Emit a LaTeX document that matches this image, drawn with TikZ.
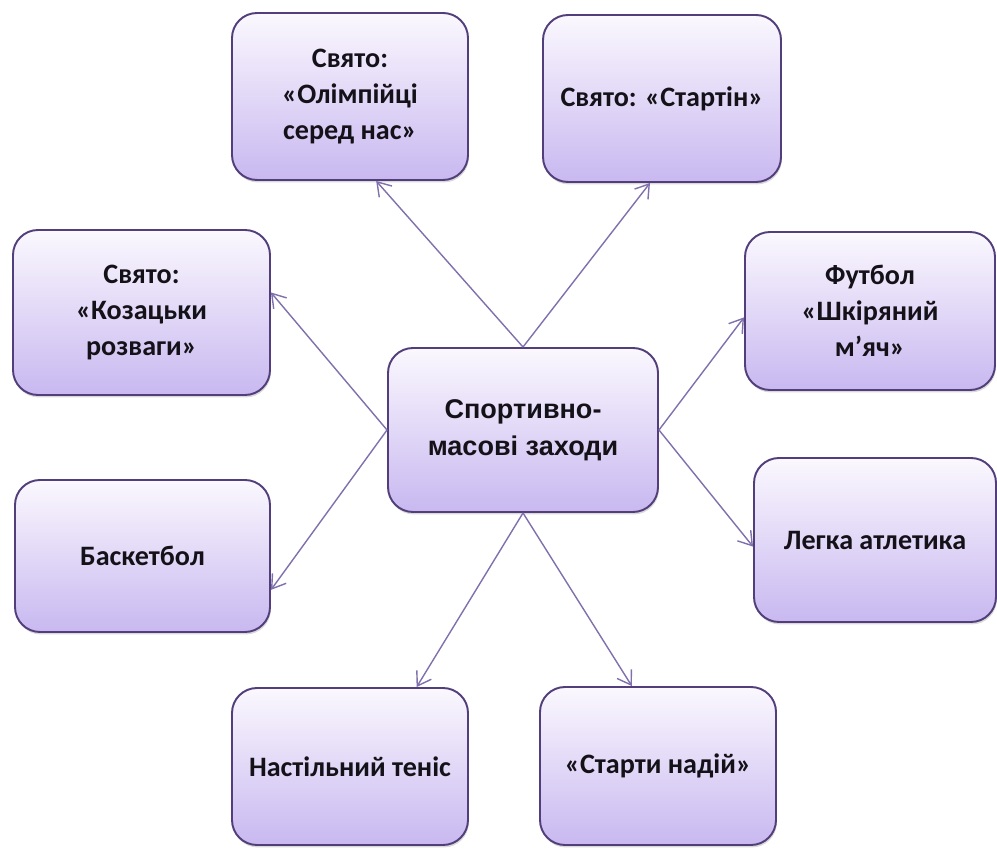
\documentclass[tikz,border=0pt]{standalone}
\usepackage{fontspec}
\setmainfont{Carlito}
\newfontfamily\hubfont{Liberation Sans}
\usetikzlibrary{arrows.meta,calc,shadows}
\definecolor{SportTop}{RGB}{251,248,254}
\definecolor{SportMid}{RGB}{237,229,251}
\definecolor{SportBot}{RGB}{200,184,240}
\definecolor{SportEdge}{RGB}{82,62,122}
\definecolor{SportLink}{RGB}{128,113,172}
\definecolor{SportText}{RGB}{20,18,24}

\begin{document}
\begin{tikzpicture}[>={Straight Barb[length=2.6mm,width=3.4mm]}]
    \tikzset{event/.style={draw=SportEdge,line width=1.1pt,rounded corners=0.5cm,top color=SportTop,middle color=SportMid,bottom color=SportBot,drop shadow={opacity=0.3,shadow xshift=0.5pt,shadow yshift=-1.4pt},align=center,text=SportText,font=\bfseries\fontsize{16}{20.6}\selectfont},
      link/.style={->,draw=SportLink,line width=0.8pt}}
    \useasboundingbox (0,0) rectangle (19.94,-17.04);
    \node[event,minimum width=5.40cm,minimum height=3.28cm,font=\hubfont\bfseries\fontsize{15.4}{21}\selectfont] (c) at (10.46,-8.60) {Спортивно-\\масові заходи};
    \node[event,minimum width=4.72cm,minimum height=3.34cm] (ol) at (7.00,-1.93) {Свято:\\«Олімпійці\\серед нас»};
    \node[event,minimum width=4.76cm,minimum height=3.34cm] (st) at (13.24,-1.97) {Свято: «Стартін»};
    \node[event,minimum width=5.14cm,minimum height=3.30cm] (kz) at (2.83,-6.25) {Свято:\\«Козацьки\\розваги»};
    \node[event,minimum width=5.00cm,minimum height=3.16cm] (fb) at (17.40,-6.22) {Футбол\\«Шкіряний\\м’яч»};
    \node[event,minimum width=5.10cm,minimum height=3.04cm] (bb) at (2.85,-11.12) {Баскетбол};
    \node[event,minimum width=4.84cm,minimum height=3.28cm] (la) at (17.50,-10.80) {Легка атлетика};
    \node[event,minimum width=4.72cm,minimum height=3.14cm] (tn) at (7.00,-15.33) {Настільний теніс};
    \node[event,minimum width=4.72cm,minimum height=3.16cm] (sn) at (13.16,-15.32) {«Старти надій»};
    % arrows from the hub
    \draw[link] (c.north) -- ($(ol.south west)!0.61!(ol.south east)$);
    \draw[link] (c.north) -- ($(st.south west)!0.45!(st.south east)$);
    \draw[link] (c.west) -- ($(kz.north east)!0.38!(kz.south east)$);
    \draw[link] (c.west) -- ($(bb.north east)!0.72!(bb.south east)$);
    \draw[link] (c.east) -- ($(fb.north west)!0.54!(fb.south west)$);
    \draw[link] (c.east) -- ($(la.north west)!0.54!(la.south west)$);
    \draw[link] (c.south) -- ($(tn.north west)!0.78!(tn.north east)$);
    \draw[link] (c.south) -- ($(sn.north west)!0.39!(sn.north east)$);
  \end{tikzpicture}
\end{document}
